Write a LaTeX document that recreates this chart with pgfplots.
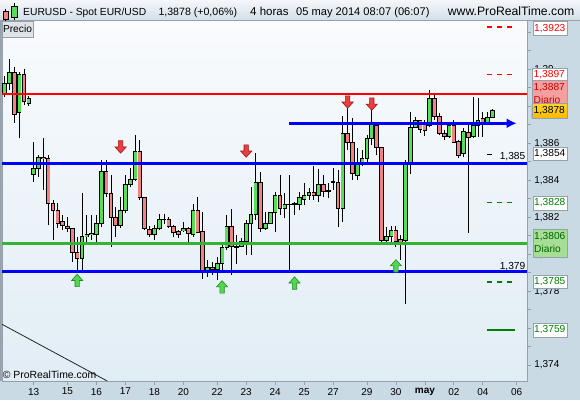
\documentclass[border=0pt]{standalone}
\usepackage{fontspec}
\setmainfont{Liberation Sans}
\usepackage{pgfplots}
\pgfplotsset{compat=1.18}
\usepackage{pgfplotstable}
\usetikzlibrary{arrows.meta}

\definecolor{candgreen}{RGB}{86,222,86}
\definecolor{candred}{RGB}{240,130,130}
\definecolor{panelbg}{RGB}{202,218,229}
\definecolor{hdrtop}{RGB}{244,247,250}
\definecolor{hdrbot}{RGB}{212,223,232}
\definecolor{plottop}{RGB}{249,251,253}
\definecolor{plotbot}{RGB}{225,237,245}
\definecolor{lblue}{RGB}{0,0,255}
\definecolor{lred}{RGB}{255,0,0}
\definecolor{lgreen}{RGB}{51,180,51}
\definecolor{dgreen}{RGB}{0,128,0}
\definecolor{boxborder}{RGB}{150,160,170}
\definecolor{arrred}{RGB}{232,64,64}
\definecolor{arrredd}{RGB}{160,20,20}
\definecolor{arrgreen}{RGB}{84,214,84}
\definecolor{arrgreend}{RGB}{30,140,30}
\definecolor{diarioR}{RGB}{244,160,160}
\definecolor{diarioG}{RGB}{166,222,150}
\definecolor{framegray}{RGB}{150,160,170}
\definecolor{precbg}{RGB}{222,228,234}

\pgfdeclareplotmark{darrow}{%
  \pgfpathmoveto{\pgfpoint{-2.2pt}{6.2pt}}%
  \pgfpathlineto{\pgfpoint{2.2pt}{6.2pt}}%
  \pgfpathlineto{\pgfpoint{2.2pt}{0pt}}%
  \pgfpathlineto{\pgfpoint{5.6pt}{0pt}}%
  \pgfpathlineto{\pgfpoint{0pt}{-6.2pt}}%
  \pgfpathlineto{\pgfpoint{-5.6pt}{0pt}}%
  \pgfpathlineto{\pgfpoint{-2.2pt}{0pt}}%
  \pgfpathclose
  \pgfusepathqfillstroke}
\pgfdeclareplotmark{uarrow}{%
  \pgfpathmoveto{\pgfpoint{-2.2pt}{-6.2pt}}%
  \pgfpathlineto{\pgfpoint{2.2pt}{-6.2pt}}%
  \pgfpathlineto{\pgfpoint{2.2pt}{0pt}}%
  \pgfpathlineto{\pgfpoint{5.6pt}{0pt}}%
  \pgfpathlineto{\pgfpoint{0pt}{6.2pt}}%
  \pgfpathlineto{\pgfpoint{-5.6pt}{0pt}}%
  \pgfpathlineto{\pgfpoint{-2.2pt}{0pt}}%
  \pgfpathclose
  \pgfusepathqfillstroke}

% bar index, open, high, low, close (4-hour bars)
\pgfplotstableread{
i o h l c
0 1.38866 1.38964 1.38852 1.38924
1 1.38924 1.39056 1.38888 1.38984
2 1.38984 1.39011 1.38711 1.38758
3 1.38767 1.38987 1.38627 1.38973
4 1.38973 1.39005 1.38807 1.38825
5 1.38816 1.38855 1.38803 1.38843
6 1.38434 1.38608 1.38392 1.38464
7 1.38464 1.38536 1.38419 1.38524
8 1.38523 1.38627 1.38347 1.38517
9 1.38519 1.38536 1.38158 1.38275
10 1.38275 1.38293 1.38080 1.38235
11 1.38235 1.38277 1.38140 1.38167
12 1.38179 1.38212 1.38131 1.38158
13 1.38151 1.38203 1.38122 1.38140
14 1.38140 1.38142 1.37959 1.38008
15 1.38012 1.38095 1.37914 1.37978
16 1.37978 1.38329 1.37914 1.38098
17 1.38098 1.38212 1.38068 1.38106
18 1.38106 1.38212 1.38077 1.38115
19 1.38109 1.38212 1.38068 1.38167
20 1.38167 1.38509 1.38149 1.38450
21 1.38450 1.38509 1.38311 1.38329
22 1.38329 1.38428 1.38040 1.38197
23 1.38197 1.38257 1.38095 1.38158
24 1.38158 1.38311 1.38140 1.38239
25 1.38239 1.38428 1.38221 1.38378
26 1.38378 1.38464 1.38365 1.38405
27 1.38405 1.38645 1.38396 1.38558
28 1.38558 1.38618 1.38293 1.38305
29 1.38305 1.38311 1.38131 1.38140
30 1.38131 1.38152 1.38091 1.38109
31 1.38109 1.38158 1.38080 1.38140
32 1.38140 1.38217 1.38131 1.38189
33 1.38190 1.38217 1.38163 1.38188
34 1.38189 1.38203 1.38140 1.38149
35 1.38149 1.38158 1.38095 1.38118
36 1.38122 1.38131 1.38091 1.38109
37 1.38127 1.38176 1.38122 1.38138
38 1.38140 1.38149 1.38050 1.38113
39 1.38109 1.38275 1.38095 1.38239
40 1.38239 1.38311 1.38113 1.38118
41 1.38122 1.38230 1.37866 1.37905
42 1.37911 1.37969 1.37878 1.37929
43 1.37929 1.37959 1.37887 1.37918
44 1.37918 1.37986 1.37860 1.37951
45 1.37951 1.38068 1.37897 1.38037
46 1.38037 1.38212 1.38023 1.38152
47 1.38152 1.38248 1.37887 1.38040
48 1.38040 1.38104 1.37951 1.38039
49 1.38040 1.38086 1.38040 1.38068
50 1.38068 1.38185 1.37996 1.38167
51 1.38167 1.38365 1.37996 1.38216
52 1.38216 1.38546 1.38185 1.38389
53 1.38389 1.38446 1.38122 1.38140
54 1.38140 1.38230 1.38131 1.38167
55 1.38167 1.38230 1.38163 1.38226
56 1.38226 1.38338 1.38122 1.38320
57 1.38320 1.38428 1.38212 1.38248
58 1.38248 1.38329 1.38194 1.38270
59 1.38270 1.38428 1.37905 1.38271
60 1.38269 1.38284 1.38212 1.38274
61 1.38270 1.38338 1.38239 1.38308
62 1.38297 1.38383 1.38266 1.38320
63 1.38320 1.38356 1.38293 1.38333
64 1.38333 1.38477 1.38293 1.38320
65 1.38320 1.38464 1.38284 1.38378
66 1.38378 1.38428 1.38311 1.38343
67 1.38343 1.38383 1.38302 1.38343
68 1.38392 1.38464 1.38347 1.38392
69 1.38389 1.38455 1.38149 1.38248
70 1.38248 1.38747 1.38176 1.38654
71 1.38654 1.38789 1.38563 1.38603
72 1.38603 1.38735 1.38401 1.38437
73 1.38428 1.38573 1.38401 1.38491
74 1.38491 1.38564 1.38477 1.38519
75 1.38519 1.38645 1.38493 1.38627
76 1.38627 1.38780 1.38590 1.38699
77 1.38699 1.38699 1.38536 1.38578
78 1.38578 1.38580 1.38061 1.38073
79 1.38073 1.38145 1.38050 1.38098
80 1.38098 1.38152 1.38068 1.38131
81 1.38131 1.38152 1.38040 1.38068
82 1.38077 1.38104 1.37969 1.38071
83 1.38073 1.38509 1.37731 1.38491
84 1.38491 1.38771 1.38437 1.38686
85 1.38686 1.38743 1.38682 1.38726
86 1.38726 1.38726 1.38654 1.38675
87 1.38704 1.38726 1.38639 1.38672
88 1.38699 1.38888 1.38689 1.38843
89 1.38843 1.38870 1.38726 1.38747
90 1.38747 1.38764 1.38645 1.38654
91 1.38654 1.38672 1.38618 1.38635
92 1.38635 1.38709 1.38628 1.38699
93 1.38699 1.38726 1.38608 1.38608
94 1.38608 1.38618 1.38519 1.38536
95 1.38542 1.38682 1.38526 1.38662
96 1.38662 1.38716 1.38116 1.38635
97 1.38635 1.38852 1.38628 1.38699
98 1.38699 1.38843 1.38635 1.38726
99 1.38735 1.38769 1.38635 1.38711
100 1.38713 1.38771 1.38699 1.38743
101 1.38743 1.38785 1.38742 1.38780
}\candles

\pgfplotstableread{
i y
24 1.38580
50 1.38558
71 1.38823
76 1.38812
}\downarrows

\pgfplotstableread{
i y
15 1.37858
45 1.37823
60 1.37844
81 1.37937
}\uparrows

\begin{document}
\begin{tikzpicture}
\useasboundingbox (0pt,0pt) rectangle (580pt,400pt);
\begin{scope}[x=1pt,y=1pt]
  \fill[panelbg] (0,0) rectangle (580,400);
  \fill[top color=hdrtop, bottom color=hdrbot] (0,380) rectangle (580,400);
  \fill[framegray] (0,19) rectangle (2,380);
\end{scope}

\begin{axis}[at={(2pt,19pt)}, anchor=south west, scale only axis,
  width=525.3pt, height=361pt,
  xmin=-0.559, xmax=108.199, ymin=1.373142, ymax=1.392666,
  axis background/.style={top color=plottop, bottom color=plotbot},
  axis line style={draw=framegray, line width=0.8pt},
  tick align=outside, major tick length=3.5pt, minor tick length=3.5pt,
  tick style={draw=framegray, line width=0.8pt},
  xtick pos=left, ytick pos=right, yticklabel pos=right,
  xtick={6,13,19,25,31,37,44,50,56,62,68,75,81,87,93,99,106},
  xticklabels={13,15,16,17,18,20,22,23,24,25,27,29,30,\textbf{may},02,04,06},
  ytick={1.374,1.378,1.38,1.382,1.384,1.386,1.39},
  yticklabels={1{,}374,1{,}378,1{,}38,1{,}382,1{,}384,1{,}386,1{,}39},
  minor ytick={1.375,1.376,1.377,1.379,1.381,1.383,1.385,1.387,1.388,1.389,1.391,1.392},
  tick label style={font=\fontsize{10}{12}\selectfont, text=black},
]
% wicks
\addplot[draw=none, mark=none,
  error bars/.cd, y dir=both, y explicit, error mark=none,
  error bar style={draw=black, line width=0.9pt}]
  table[x=i, y expr={(\thisrow{h}+\thisrow{l})/2}, y error expr={(\thisrow{h}-\thisrow{l})/2}] {\candles};
% body outlines
\addplot[draw=none, mark=none,
  error bars/.cd, y dir=both, y explicit, error mark=none,
  error bar style={draw=black, line width=4.6pt}]
  table[x=i, y expr={(\thisrow{o}+\thisrow{c})/2}, y error expr={abs(\thisrow{c}-\thisrow{o})/2+0.000027}] {\candles};
% rising bodies
\addplot[draw=none, mark=none, restrict expr to domain={\thisrow{c}-\thisrow{o}}{0:1},
  error bars/.cd, y dir=both, y explicit, error mark=none,
  error bar style={draw=candgreen, line width=2.9pt}]
  table[x=i, y expr={(\thisrow{o}+\thisrow{c})/2}, y error expr={max(abs(\thisrow{c}-\thisrow{o})/2-0.000027,0)}] {\candles};
% falling bodies
\addplot[draw=none, mark=none, restrict expr to domain={\thisrow{c}-\thisrow{o}}{-1:-0.0000001},
  error bars/.cd, y dir=both, y explicit, error mark=none,
  error bar style={draw=candred, line width=2.9pt}]
  table[x=i, y expr={(\thisrow{o}+\thisrow{c})/2}, y error expr={max(abs(\thisrow{c}-\thisrow{o})/2-0.000027,0)}] {\candles};

% horizontal levels
\addplot[draw=lblue, line width=2.8pt] coordinates {(-0.559,1.3849) (108.199,1.3849)};
\addplot[draw=lgreen, line width=3pt] coordinates {(-0.559,1.3806) (108.199,1.3806)};
\addplot[draw=lblue, line width=2.8pt] coordinates {(-0.559,1.37905) (108.199,1.37905)};
\addplot[draw=lblue, line width=2.6pt, -{Latex[length=10pt,width=10pt]}] coordinates {(58.92,1.38708) (105.99,1.38708)};
\addplot[draw=lred, line width=1.9pt] coordinates {(-0.559,1.38868) (108.199,1.38868)};

% short level marks on the right
\addplot[draw=lred, line width=2pt, dash pattern=on 5pt off 5pt] coordinates {(99.86,1.3923) (105.03,1.3923)};
\addplot[draw=lred, line width=1.3pt, dash pattern=on 5pt off 5pt] coordinates {(99.86,1.3897) (105.03,1.3897)};
\addplot[draw=black, line width=1.5pt] coordinates {(99.86,1.3854) (100.9,1.3854)};
\addplot[draw=dgreen, line width=1.3pt, dash pattern=on 5pt off 5pt] coordinates {(99.86,1.3828) (105.03,1.3828)};
\addplot[draw=dgreen, line width=2pt, dash pattern=on 5pt off 5pt] coordinates {(99.86,1.3785) (105.03,1.3785)};
\addplot[draw=dgreen, line width=2.2pt] coordinates {(99.86,1.3759) (105.6,1.3759)};

% trend line
\addplot[draw=black!85, line width=0.8pt] coordinates {(-0.559,1.37621) (21.24,1.37314)};

% signal arrows
\addplot[only marks, mark=darrow, mark options={fill=arrred, draw=arrredd, line width=0.6pt}] table[x=i, y=y] {\downarrows};
\addplot[only marks, mark=uarrow, mark options={fill=arrgreen, draw=arrgreend, line width=0.6pt}] table[x=i, y=y] {\uparrows};
\end{axis}

\begin{scope}[x=1pt,y=1pt, every node/.style={inner sep=0pt, font=\fontsize{10.2}{12}\selectfont}]
  % level labels in plot
  \node[anchor=base east] at (525.5,240.8) {1,385};
  \node[anchor=base east] at (525.5,131) {1,379};
  % price boxes
  \draw[boxborder, fill=white] (532.7,365) rectangle (566.7,378.3);
  \node[anchor=west, text=red] at (534,371.6) {1,3923};
  \draw[boxborder, fill=white] (531.7,320) rectangle (566.7,331.7);
  \node[anchor=west, text=red] at (533.5,325.8) {1,3897};
  \draw[boxborder, fill=diarioR] (531.7,296.7) rectangle (566.7,320);
  \node[anchor=west, text={rgb,255:red,200;green,0;blue,0}] at (533.5,312.5) {1,3887};
  \node[anchor=west, text={rgb,255:red,200;green,0;blue,0}] at (533.5,300.5) {Diario};
  \draw[boxborder, top color={rgb,255:red,255;green,214;blue,40}, bottom color={rgb,255:red,250;green,185;blue,0}] (531.7,281.7) rectangle (566.7,296.7);
  \node[anchor=west] at (533.5,289.2) {1,3878};
  \draw[boxborder, fill=white] (532.7,240) rectangle (566.7,253.3);
  \node[anchor=west] at (534,246.6) {1,3854};
  \draw[boxborder, fill=white] (532.7,190) rectangle (567.3,204);
  \node[anchor=west, text=dgreen] at (534,197) {1,3828};
  \draw[boxborder, fill=diarioG] (532.7,143.3) rectangle (567.3,170.7);
  \node[anchor=west, text={rgb,255:red,0;green,100;blue,0}] at (534,163.5) {1,3806};
  \node[anchor=west, text={rgb,255:red,0;green,100;blue,0}] at (534,151.5) {Diario};
  \draw[boxborder, fill=white] (532.7,111.5) rectangle (567.3,124.5);
  \node[anchor=west, text=dgreen] at (534,118) {1,3785};
  \draw[boxborder, fill=white] (532.7,62.7) rectangle (567.3,77.3);
  \node[anchor=west, text=dgreen] at (534,70) {1,3759};
  % header
  \draw[framegray] (0,380) -- (580,380);
  \draw[black, line width=0.6pt] (5.5,378.6) -- (5.5,390.7);
  \draw[black, line width=0.6pt, fill=candred] (3,381) rectangle (8,389);
  \draw[black, line width=0.6pt] (14.2,379.7) -- (14.2,397);
  \draw[black, line width=0.6pt, fill=candgreen] (11,383) rectangle (17.4,393.3);
  \node[anchor=base west, font=\fontsize{10.3}{12}\selectfont] at (23,384) {EURUSD - Spot EUR/USD};
  \node[anchor=base west, font=\fontsize{10.6}{12}\selectfont] at (158.3,384) {1,3878 (+0,06\%)};
  \node[anchor=base west, font=\fontsize{11.5}{12}\selectfont] at (250,384) {4 horas};
  \node[anchor=base west, font=\fontsize{11.1}{12}\selectfont] at (296,384) {05 may 2014 08:07 (06:07)};
  \node[anchor=base west, font=\fontsize{12.2}{12}\selectfont] at (447.7,384) {www.ProRealTime.com};
  % precio tab
  \draw[boxborder, fill=precbg] (2,363) rectangle (33,378.5);
  \node at (17.5,370.7) {Precio};
  % copyright
  \node[anchor=base west, font=\fontsize{10.4}{12}\selectfont] at (2.7,21.8) {© ProRealTime.com};
\end{scope}
\end{tikzpicture}
\end{document}
